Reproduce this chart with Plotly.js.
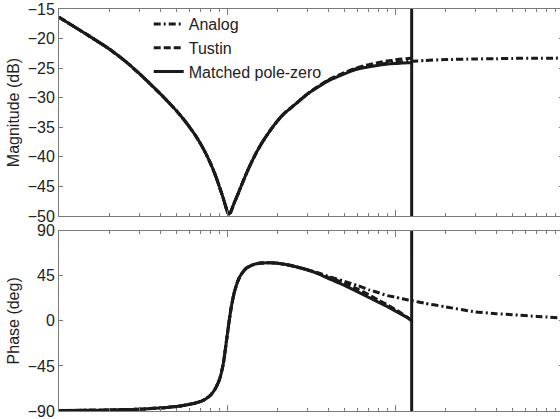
<!DOCTYPE html>
<html>
<head>
<meta charset="utf-8">
<script src="https://cdn.plot.ly/plotly-3.0.1.min.js"></script>
<style>
html, body { margin: 0; padding: 0; overflow: hidden; background: #fff; }
#chart { width: 566px; height: 419px; }
</style>
</head>
<body>
<div id="chart"></div>
<script>
// Frequencies (rad/s) for the discrete models (up to Nyquist)
const freqLow = [1, 1.5, 2, 2.5, 3, 3.5, 4, 4.5, 5, 5.5, 6, 6.5, 7, 7.5, 8, 8.5, 9, 9.5, 9.8, 10, 10.15, 10.3, 10.45, 10.6, 11, 11.5, 12, 13, 14, 15, 16, 18, 20, 22, 25, 30];
const freqHigh = [35, 40, 50, 60, 70, 80, 90, 100, 110, 120, 125.66];
// Extra frequencies for the analog model beyond Nyquist
const freqAnalogExtra = [150, 200, 300, 400, 500, 700, 1000];
const nyquistFreq = 125.66;

// Shared low-frequency part of the magnitude (dB), up to 30 rad/s
const magCommon = [-16.4, -19.5, -21.8, -23.9, -25.9, -27.7, -29.3, -30.8, -32.2, -33.6,
                   -35.0, -36.4, -37.9, -39.5, -41.2, -43.0, -45.0, -47.0, -48.3, -49.1,
                   -49.55, -49.7, -49.5, -49.1, -47.9, -46.6, -45.3, -42.9, -40.9, -39.2,
                   -37.8, -35.6, -33.9, -32.6, -31.3, -29.4];
// High-frequency parts (35 .. 125.66 rad/s)
const magAnalogHigh  = [-28.1, -27.1, -25.85, -25.0, -24.6, -24.35, -24.15, -24.0, -23.93, -23.88, -23.85];
const magTustinHigh  = [-28.05, -27.0, -25.75, -24.9, -24.4, -24.05, -23.8, -23.6, -23.45, -23.35, -23.3];
const magMatchedHigh = [-28.15, -27.15, -25.95, -25.15, -24.75, -24.5, -24.3, -24.2, -24.15, -24.1, -24.1];
const magAnalogExtra = [-23.7, -23.55, -23.45, -23.4, -23.35, -23.32, -23.3];

// Shared low-frequency part of the phase (deg), up to 30 rad/s
const phaseCommon = [-89.5, -89.3, -89.0, -88.6, -88.2, -87.6, -87.0, -86.3, -85.5, -84.5,
                     -83.3, -82.0, -80.3, -77.8, -74.0, -68.0, -59.0, -43.0, -27.0, -16.0,
                     -8.0, 0.0, 7.0, 13.5, 27.0, 38.0, 45.0, 52.5, 55.5, 57.0,
                     57.7, 58.0, 57.5, 56.5, 54.5, 51.0];
const phaseAnalogHigh  = [47.8, 44.5, 39.5, 35.2, 31.0, 28.0, 25.2, 23.8, 22.0, 20.8, 20.2];
const phaseTustinHigh  = [47.3, 43.4, 37.6, 31.6, 26.0, 20.6, 16.0, 11.5, 7.2, 3.0, 0.3];
const phaseMatchedHigh = [46.8, 42.3, 35.5, 28.9, 23.3, 18.4, 14.2, 10.0, 6.2, 2.6, 0.0];
const phaseAnalogExtra = [17.6, 14.0, 9.0, 7.2, 6.1, 4.4, 2.8];

const seriesNames = ['Analog', 'Tustin', 'Matched pole-zero'];
const magTicks = [-50, -45, -40, -35, -30, -25, -20, -15];
const phaseTicks = [-90, -45, 0, 45, 90];

const freqDiscrete = freqLow.concat(freqHigh);
const freqAnalog = freqDiscrete.concat(freqAnalogExtra);
const magAnalog = magCommon.concat(magAnalogHigh, magAnalogExtra);
const magTustin = magCommon.concat(magTustinHigh);
const magMatched = magCommon.concat(magMatchedHigh);
const phaseAnalog = phaseCommon.concat(phaseAnalogHigh, phaseAnalogExtra);
const phaseTustin = phaseCommon.concat(phaseTustinHigh);
const phaseMatched = phaseCommon.concat(phaseMatchedHigh);

const lineColor = '#1a1a1a';
const lw = 3;
const dashes = ['7px,3px,2px,3px', '7px,3px', 'solid'];

function tr(x, y, i, xa, ya, legend) {
  return {
    x: x, y: y, type: 'scatter', mode: 'lines', name: seriesNames[i],
    xaxis: xa, yaxis: ya, showlegend: legend, legendgroup: seriesNames[i],
    line: { color: lineColor, width: lw, dash: dashes[i], shape: 'spline', smoothing: 0.6 }
  };
}

const data = [
  tr(freqAnalog, magAnalog, 0, 'x', 'y', true),
  tr(freqDiscrete, magTustin, 1, 'x', 'y', true),
  tr(freqDiscrete, magMatched, 2, 'x', 'y', true),
  tr(freqAnalog, phaseAnalog, 0, 'x2', 'y2', false),
  tr(freqDiscrete, phaseTustin, 1, 'x2', 'y2', false),
  tr(freqDiscrete, phaseMatched, 2, 'x2', 'y2', false),
  { x: [nyquistFreq, nyquistFreq], y: [-60, 0], type: 'scatter', mode: 'lines', xaxis: 'x', yaxis: 'y',
    showlegend: false, hoverinfo: 'skip', line: { color: lineColor, width: 3 } },
  { x: [nyquistFreq, nyquistFreq], y: [-100, 100], type: 'scatter', mode: 'lines', xaxis: 'x2', yaxis: 'y2',
    showlegend: false, hoverinfo: 'skip', line: { color: lineColor, width: 3 } }
];

const fontFam = 'Liberation Sans, Arial, Helvetica, sans-serif';
const axisLine = '#7a7a7a';
function xAxis(anchor) {
  return {
    type: 'log', range: [0, 3], anchor: anchor, domain: [0, 1],
    showticklabels: false, showgrid: false, zeroline: false,
    showline: true, linecolor: axisLine, linewidth: 1, mirror: 'ticks',
    ticks: 'inside', ticklen: 6, tickcolor: axisLine, dtick: 1,
    minor: { ticks: 'inside', ticklen: 3, tickcolor: axisLine, dtick: 'D1', showgrid: false }
  };
}
function yAxis(anchor, domain, range, ticks, title) {
  return {
    anchor: anchor, domain: domain, range: range, tickvals: ticks,
    showgrid: false, zeroline: false, showline: true, linecolor: axisLine, linewidth: 1,
    mirror: 'ticks', ticks: 'inside', ticklen: 4, tickcolor: axisLine,
    ticklabeloverflow: 'allow',
    tickfont: { family: fontFam, size: 16, color: '#222' },
    title: { text: title, font: { family: fontFam, size: 16, color: '#222' }, standoff: 4 },
    automargin: false
  };
}

const layout = {
  width: 566, height: 419,
  margin: { l: 59, r: 3, t: 9, b: 8 },
  paper_bgcolor: '#fff', plot_bgcolor: '#fff',
  showlegend: true,
  legend: {
    x: 0.178, y: 1.005, xanchor: 'left', yanchor: 'top',
    bgcolor: 'rgba(0,0,0,0)', borderwidth: 0,
    font: { family: fontFam, size: 16, color: '#222' },
    tracegroupgap: 0
  },
  xaxis: xAxis('y'),
  yaxis: yAxis('x', [0.485, 1], [-50, -15], magTicks, 'Magnitude (dB)'),
  xaxis2: xAxis('y2'),
  yaxis2: yAxis('x2', [0, 0.4485], [-90, 90], phaseTicks, 'Phase (deg)')
};

Plotly.newPlot('chart', data, layout, { displayModeBar: false, staticPlot: true });
</script>
</body>
</html>
